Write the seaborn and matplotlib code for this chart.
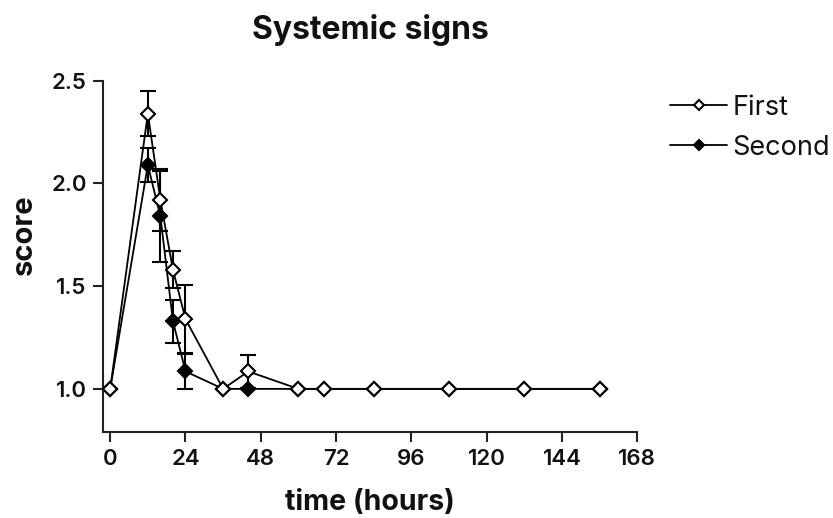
import matplotlib
matplotlib.use("Agg")
import matplotlib.pyplot as plt
import seaborn as sns
import pandas as pd

# values
time_h = [0, 12, 16, 20, 24, 36, 44, 60, 68, 84, 108, 132, 156]
first_score = [1.0, 2.34, 1.92, 1.58, 1.34, 1.0, 1.085, 1.0, 1.0, 1.0, 1.0, 1.0, 1.0]
first_sem = [0, 0.11, 0.15, 0.09, 0.165, 0, 0.08, 0, 0, 0, 0, 0, 0]
second_score = [1.0, 2.09, 1.84, 1.33, 1.085, 1.0, 1.0, 1.0, 1.0, 1.0, 1.0, 1.0, 1.0]
second_sem = [0, 0.085, 0.22, 0.105, 0.085, 0, 0, 0, 0, 0, 0, 0, 0]
x_ticks = [0, 24, 48, 72, 96, 120, 144, 168]
y_ticks = [1.0, 1.5, 2.0, 2.5]

sns.set_style("ticks")
plt.rcParams["font.family"] = ["Inter", "DejaVu Sans"]

df_first = pd.DataFrame({"time": time_h, "score": first_score, "sem": first_sem})
df_second = pd.DataFrame({"time": time_h, "score": second_score, "sem": second_sem})

fig = plt.figure(figsize=(8.33, 5.18), dpi=100)
ax = fig.add_axes([0.124, 0.166, 0.641, 0.678])

line_kw = dict(color="black", linewidth=1.3, marker="D", markersize=7,
               markeredgecolor="black", markeredgewidth=1.5)

# second drawn first so that open markers of "First" sit on top
ax.errorbar(df_second["time"], df_second["score"], yerr=df_second["sem"],
            fmt="none", ecolor="black", elinewidth=1.5, capsize=6, capthick=1.5, zorder=2)
sns.lineplot(data=df_second, x="time", y="score", ax=ax, markerfacecolor="black",
             label="Second", zorder=3, **line_kw)
ax.errorbar(df_first["time"], df_first["score"], yerr=df_first["sem"],
            fmt="none", ecolor="black", elinewidth=1.5, capsize=6, capthick=1.5, zorder=4)
sns.lineplot(data=df_first, x="time", y="score", ax=ax, markerfacecolor="white",
             label="First", zorder=5, **line_kw)

ax.set_xlim(-2.2, 168)
ax.set_ylim(0.79, 2.5)
ax.set_xticks(x_ticks)
ax.set_yticks(y_ticks)
ax.set_yticklabels([f"{v:.1f}" for v in y_ticks])
ax.tick_params(axis="both", labelsize=16, width=1.5, length=7, direction="out",
               color="#222222", labelcolor="#111111", pad=5)
for lab in ax.get_xticklabels() + ax.get_yticklabels():
    lab.set_fontweight("semibold")
for s in ["left", "bottom"]:
    ax.spines[s].set_linewidth(1.5)
    ax.spines[s].set_color("#222222")
sns.despine(ax=ax)

ax.set_xlabel("time (hours)", fontsize=20.5, fontweight="bold", color="#111111")
ax.xaxis.set_label_coords(0.5, -0.163)
ax.set_ylabel("score", fontsize=21, fontweight="bold", color="#111111")
ax.yaxis.set_label_coords(-0.122, 0.561)
ax.set_title("Systemic signs", fontsize=23, fontweight="bold", pad=30, color="#111111")

handles, labels = ax.get_legend_handles_labels()
order = [labels.index("First"), labels.index("Second")]
ax.legend([handles[i] for i in order], [labels[i] for i in order],
          loc="upper left", bbox_to_anchor=(1.062, 0.96), frameon=False,
          fontsize=19.5, handlelength=2.1, handletextpad=0.2, labelspacing=0.52,
          markerscale=0.75, labelcolor="#111111", borderaxespad=0, borderpad=0)

fig.savefig("out.png", dpi=100)
